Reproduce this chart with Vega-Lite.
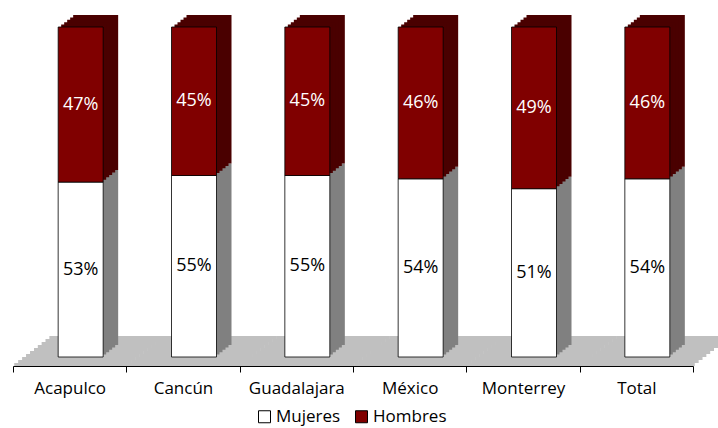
{
  "$schema": "https://vega.github.io/schema/vega-lite/v6.json",
  "width": 680,
  "height": 330,
  "autosize": "none",
  "padding": {"left": 13, "top": 27, "right": 25, "bottom": 71},
  "config": {
    "font": "Open Sans",
    "view": {"stroke": null}
  },
  "data": {
    "values": [
      {"Ciudad": "Acapulco", "Sexo": "Mujeres", "pct": 0.53},
      {"Ciudad": "Acapulco", "Sexo": "Hombres", "pct": 0.47},
      {"Ciudad": "Cancún", "Sexo": "Mujeres", "pct": 0.55},
      {"Ciudad": "Cancún", "Sexo": "Hombres", "pct": 0.45},
      {"Ciudad": "Guadalajara", "Sexo": "Mujeres", "pct": 0.55},
      {"Ciudad": "Guadalajara", "Sexo": "Hombres", "pct": 0.45},
      {"Ciudad": "México", "Sexo": "Mujeres", "pct": 0.54},
      {"Ciudad": "México", "Sexo": "Hombres", "pct": 0.46},
      {"Ciudad": "Monterrey", "Sexo": "Mujeres", "pct": 0.51},
      {"Ciudad": "Monterrey", "Sexo": "Hombres", "pct": 0.49},
      {"Ciudad": "Total", "Sexo": "Mujeres", "pct": 0.54},
      {"Ciudad": "Total", "Sexo": "Hombres", "pct": 0.46}
    ]
  },
  "transform": [
    {
      "stack": "pct",
      "groupby": ["Ciudad"],
      "sort": [{"field": "Sexo", "order": "descending"}],
      "as": ["v0", "v1"]
    },
    {"calculate": "(datum.v0 + datum.v1) / 2", "as": "mid"}
  ],
  "encoding": {
    "x": {
      "field": "Ciudad",
      "type": "nominal",
      "sort": null,
      "scale": {"paddingInner": 0, "paddingOuter": 0},
      "axis": {
        "title": null,
        "labelAngle": 0,
        "offset": 9,
        "domainColor": "black",
        "tickColor": "black",
        "tickSize": 6,
        "tickBand": "extent",
        "labelFontSize": 17,
        "labelColor": "black",
        "labelPadding": 8
      }
    },
    "y": {
      "field": "v0",
      "type": "quantitative",
      "scale": {"domain": [0, 1], "nice": false, "zero": false},
      "axis": null
    },
    "y2": {"field": "v1"}
  },
  "layer": [
    {"mark": {"type": "bar", "fill": "#c0c0c0", "width": {"band": 1}, "xOffset": 1.5, "x2Offset": 1.5}, "encoding": {"y": {"datum": -0.02727, "type": "quantitative"}, "y2": {"datum": -0.01818}}},
    {"mark": {"type": "bar", "fill": "#c0c0c0", "width": {"band": 1}, "xOffset": 5.4, "x2Offset": 5.4}, "encoding": {"y": {"datum": -0.01818, "type": "quantitative"}, "y2": {"datum": -0.00909}}},
    {"mark": {"type": "bar", "fill": "#c0c0c0", "width": {"band": 1}, "xOffset": 9.3, "x2Offset": 9.3}, "encoding": {"y": {"datum": -0.00909, "type": "quantitative"}, "y2": {"datum": 0}}},
    {"mark": {"type": "bar", "fill": "#c0c0c0", "width": {"band": 1}, "xOffset": 13.2, "x2Offset": 13.2}, "encoding": {"y": {"datum": 0, "type": "quantitative"}, "y2": {"datum": 0.00909}}},
    {"mark": {"type": "bar", "fill": "#c0c0c0", "width": {"band": 1}, "xOffset": 17.1, "x2Offset": 17.1}, "encoding": {"y": {"datum": 0.00909, "type": "quantitative"}, "y2": {"datum": 0.01818}}},
    {"mark": {"type": "bar", "fill": "#c0c0c0", "width": {"band": 1}, "xOffset": 21, "x2Offset": 21}, "encoding": {"y": {"datum": 0.01818, "type": "quantitative"}, "y2": {"datum": 0.02727}}},
    {"mark": {"type": "bar", "fill": "#c0c0c0", "width": {"band": 1}, "xOffset": 24.9, "x2Offset": 24.9}, "encoding": {"y": {"datum": 0.02727, "type": "quantitative"}, "y2": {"datum": 0.03636}}},
    {"mark": {"type": "bar", "fill": "#c0c0c0", "width": {"band": 1}, "xOffset": 28.8, "x2Offset": 28.8}, "encoding": {"y": {"datum": 0.03636, "type": "quantitative"}, "y2": {"datum": 0.04545}}},
    {"mark": {"type": "bar", "fill": "#c0c0c0", "width": {"band": 1}, "xOffset": 32.7, "x2Offset": 32.7}, "encoding": {"y": {"datum": 0.04545, "type": "quantitative"}, "y2": {"datum": 0.05455}}},
    {"mark": {"type": "bar", "fill": "#c0c0c0", "width": {"band": 1}, "xOffset": 36.6, "x2Offset": 36.6}, "encoding": {"y": {"datum": 0.05455, "type": "quantitative"}, "y2": {"datum": 0.06364}}},
    {"mark": {"type": "bar", "width": 45, "xOffset": 26, "x2Offset": 26, "yOffset": -12, "y2Offset": -12}, "encoding": {"fill": {"condition": {"test": "datum.Sexo === 'Hombres'", "value": "#4a0000"}, "value": "#808080"}}},
    {"mark": {"type": "bar", "width": 45, "xOffset": 23, "x2Offset": 23, "yOffset": -9.6, "y2Offset": -9.6}, "encoding": {"fill": {"condition": {"test": "datum.Sexo === 'Hombres'", "value": "#4a0000"}, "value": "#808080"}}},
    {"mark": {"type": "bar", "width": 45, "xOffset": 20, "x2Offset": 20, "yOffset": -7.2, "y2Offset": -7.2}, "encoding": {"fill": {"condition": {"test": "datum.Sexo === 'Hombres'", "value": "#4a0000"}, "value": "#808080"}}},
    {"mark": {"type": "bar", "width": 45, "xOffset": 17, "x2Offset": 17, "yOffset": -4.8, "y2Offset": -4.8}, "encoding": {"fill": {"condition": {"test": "datum.Sexo === 'Hombres'", "value": "#4a0000"}, "value": "#808080"}}},
    {"mark": {"type": "bar", "width": 45, "xOffset": 14, "x2Offset": 14, "yOffset": -2.4, "y2Offset": -2.4}, "encoding": {"fill": {"condition": {"test": "datum.Sexo === 'Hombres'", "value": "#4a0000"}, "value": "#808080"}}},
    {
      "mark": {"type": "bar", "width": 45, "xOffset": 11, "x2Offset": 11, "stroke": "black", "strokeWidth": 0.8, "opacity": 1},
      "encoding": {
        "color": {
          "field": "Sexo",
          "type": "nominal",
          "scale": {"domain": ["Mujeres", "Hombres"], "range": ["#ffffff", "#800000"]},
          "legend": {
            "title": null,
            "orient": "none",
            "legendX": 243,
            "legendY": 381,
            "direction": "horizontal",
            "symbolType": "square",
            "symbolSize": 144,
            "symbolStrokeColor": "black",
            "symbolStrokeWidth": 1,
            "symbolOpacity": 1,
            "labelFontSize": 17,
            "labelColor": "black",
            "labelOffset": 3,
            "columnPadding": 12
          }
        }
      }
    },
    {
      "mark": {"type": "text", "fontSize": 18, "xOffset": 11},
      "encoding": {
        "y": {"field": "mid", "type": "quantitative"},
        "text": {"field": "pct", "type": "quantitative", "format": ".0%"},
        "color": {"condition": {"test": "datum.Sexo === 'Hombres'", "value": "white"}, "value": "black"}
      }
    }
  ]
}
